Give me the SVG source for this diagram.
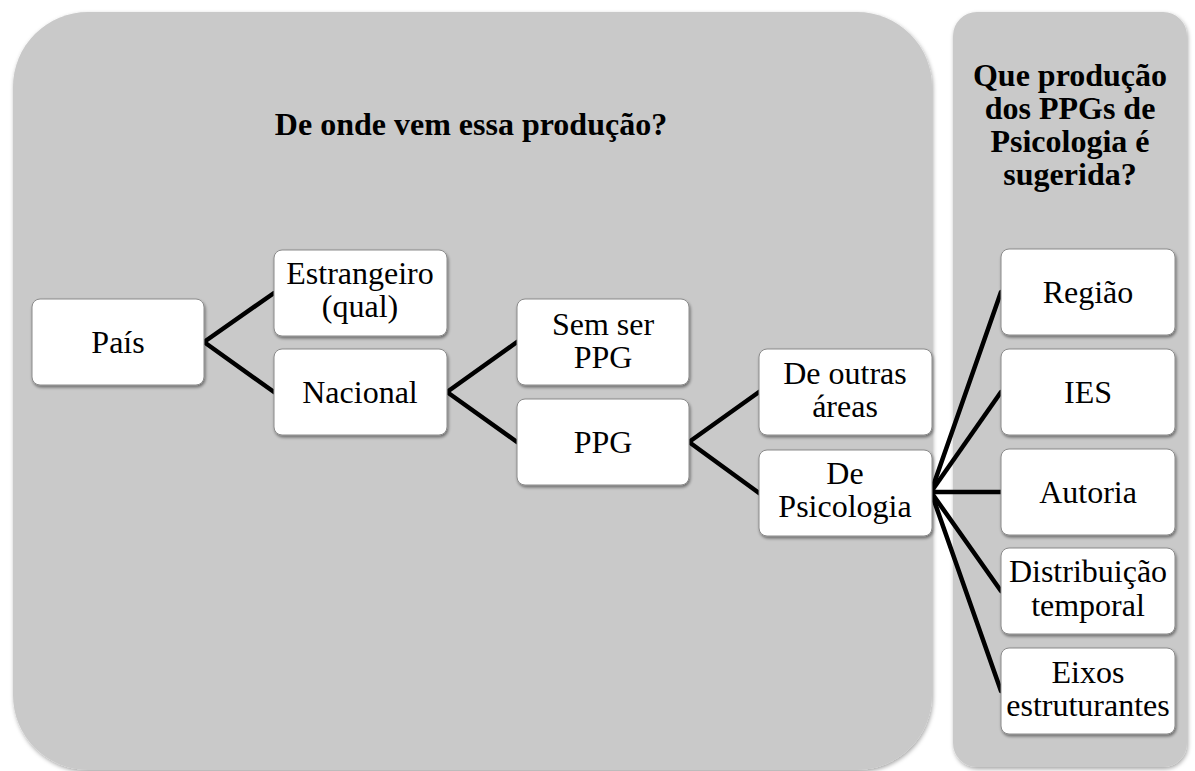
<svg xmlns="http://www.w3.org/2000/svg" width="1195" height="771" viewBox="0 0 1195 771">
  <defs>
    <filter id="psh" x="-5%" y="-5%" width="110%" height="110%">
      <feDropShadow dx="1" dy="2" stdDeviation="2" flood-color="#000" flood-opacity="0.35"/>
    </filter>
    <filter id="nsh" x="-10%" y="-10%" width="120%" height="125%">
      <feDropShadow dx="1" dy="2" stdDeviation="1.5" flood-color="#000" flood-opacity="0.45"/>
    </filter>
  </defs>
  <style>
    .panel { fill: #c9c9c9; filter: url(#psh); }
    .node rect { fill: #ffffff; stroke: #8a8a8a; stroke-width: 1; filter: url(#nsh); }
    .node text, .title { fill: #000; text-anchor: middle; }
    .node text { font-size: 32px; }
    .title { font-size: 32px; font-weight: bold; }
    .conn line { stroke: #000; stroke-width: 4.5; stroke-linecap: round; }
  </style>
  <rect width="1195" height="771" fill="#ffffff"/>
  <g font-family="'Liberation Serif', 'Times New Roman', serif">
  <g id="panel-left">
    <rect class="panel" x="13" y="12" width="919" height="758" rx="75" ry="75"/>
    <text class="title" x="471" y="135">De onde vem essa produção?</text>
  </g>
  <g id="panel-right">
    <rect class="panel" x="953" y="12" width="234" height="755" rx="24" ry="24"/>
    <text class="title" x="1070" y="86">Que produção</text>
    <text class="title" x="1070" y="119">dos PPGs de</text>
    <text class="title" x="1070" y="152">Psicologia é</text>
    <text class="title" x="1070" y="185">sugerida?</text>
  </g>
  <g id="connectors" class="conn">
    <line x1="204" y1="342" x2="274" y2="293"/>
    <line x1="204" y1="342" x2="274" y2="392"/>
    <line x1="447" y1="392" x2="517" y2="342"/>
    <line x1="447" y1="392" x2="517" y2="442"/>
    <line x1="689" y1="442" x2="759" y2="392"/>
    <line x1="689" y1="442" x2="759" y2="493"/>
    <line x1="931" y1="492" x2="1001" y2="292"/>
    <line x1="931" y1="492" x2="1001" y2="392"/>
    <line x1="931" y1="492" x2="1001" y2="492"/>
    <line x1="931" y1="492" x2="1001" y2="591"/>
    <line x1="931" y1="492" x2="1001" y2="691"/>
  </g>
  <g id="node-pais" class="node">
    <rect x="32" y="299" width="172" height="86" rx="8"/>
    <text x="118" y="353">País</text>
  </g>
  <g id="node-estrangeiro" class="node">
    <rect x="274" y="250" width="173" height="86" rx="8"/>
    <text x="360" y="284">Estrangeiro</text>
    <text x="360" y="317">(qual)</text>
  </g>
  <g id="node-nacional" class="node">
    <rect x="274" y="349" width="173" height="86" rx="8"/>
    <text x="360" y="403">Nacional</text>
  </g>
  <g id="node-semserppg" class="node">
    <rect x="517" y="299" width="172" height="86" rx="8"/>
    <text x="603" y="335">Sem ser</text>
    <text x="603" y="368">PPG</text>
  </g>
  <g id="node-ppg" class="node">
    <rect x="517" y="399" width="172" height="86" rx="8"/>
    <text x="603" y="453">PPG</text>
  </g>
  <g id="node-outras" class="node">
    <rect x="759" y="349" width="173" height="86" rx="8"/>
    <text x="845" y="384">De outras</text>
    <text x="845" y="417">áreas</text>
  </g>
  <g id="node-psicologia" class="node">
    <rect x="759" y="450" width="173" height="86" rx="8"/>
    <text x="845" y="484">De</text>
    <text x="845" y="517">Psicologia</text>
  </g>
  <g id="node-regiao" class="node">
    <rect x="1001" y="249" width="174" height="86" rx="8"/>
    <text x="1088" y="303">Região</text>
  </g>
  <g id="node-ies" class="node">
    <rect x="1001" y="349" width="174" height="86" rx="8"/>
    <text x="1088" y="403">IES</text>
  </g>
  <g id="node-autoria" class="node">
    <rect x="1001" y="449" width="174" height="86" rx="8"/>
    <text x="1088" y="503">Autoria</text>
  </g>
  <g id="node-distribuicao" class="node">
    <rect x="1001" y="548" width="174" height="86" rx="8"/>
    <text x="1088" y="582">Distribuição</text>
    <text x="1088" y="616">temporal</text>
  </g>
  <g id="node-eixos" class="node">
    <rect x="1001" y="648" width="174" height="86" rx="8"/>
    <text x="1088" y="683">Eixos</text>
    <text x="1088" y="716">estruturantes</text>
  </g>
  </g>
</svg>
